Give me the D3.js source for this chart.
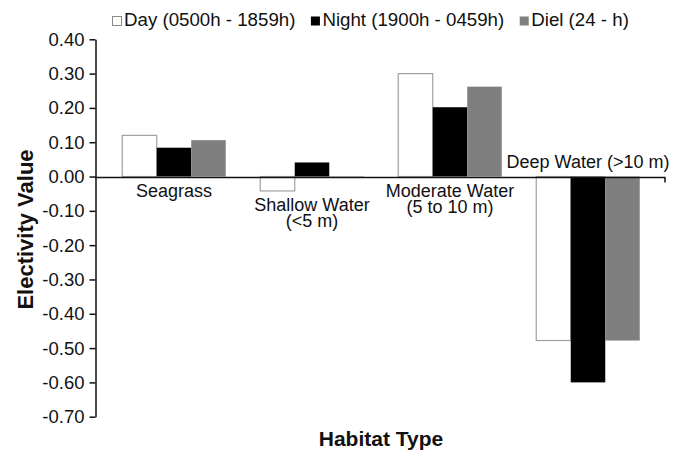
<!DOCTYPE html>
<html>
<head>
<meta charset="utf-8">
<script src="https://cdn.jsdelivr.net/npm/d3@7"></script>
<style>
body { margin: 0; background: #fff; }
text { font-family: "Liberation Sans", Arial, sans-serif; fill: #111; }
</style>
</head>
<body>
<div id="chart"></div>
<script>
// data
var habitats = ["Seagrass", "Shallow Water|(<5 m)", "Moderate Water|(5 to 10 m)", "Deep Water (>10 m)"];
var seriesNames = ["Day (0500h - 1859h)", "Night (1900h - 0459h)", "Diel (24 - h)"];
var dayValues = [0.12, -0.042, 0.30, -0.478];
var nightValues = [0.084, 0.041, 0.202, -0.60];
var dielValues = [0.106, -0.004, 0.262, -0.478];
var yTicks = [0.40, 0.30, 0.20, 0.10, 0.00, -0.10, -0.20, -0.30, -0.40, -0.50, -0.60, -0.70];

var series = [dayValues, nightValues, dielValues];
var fills = ["#ffffff", "#000000", "#7f7f7f"];
var strokes = ["#a0a0a0", "none", "none"];

var width = 676, height = 450;
var svg = d3.select("#chart").append("svg")
  .attr("width", width)
  .attr("height", height);

// scales
var y = d3.scaleLinear().domain([-0.7, 0.4]).range([416.7, 39.3]);
var x0 = d3.scaleBand().domain(habitats).range([105, 657])
  .paddingInner(0.25).paddingOuter(0.125);
var x1 = d3.scaleBand().domain([0, 1, 2]).range([0, x0.bandwidth()]);

// y axis
var yAxis = svg.append("g")
  .attr("transform", "translate(95.5,0)")
  .call(d3.axisLeft(y).tickValues(yTicks).tickSize(6).tickSizeOuter(0)
    .tickPadding(5).tickFormat(function (d) { return d.toFixed(2); }));
yAxis.select(".domain").attr("stroke", "#111").attr("stroke-width", 1.5);
yAxis.selectAll(".tick line").attr("stroke", "#111").attr("stroke-width", 1.5);
yAxis.selectAll(".tick text").style("font-size", "18.5px")
  .style("font-family", "'Liberation Sans', Arial, sans-serif").attr("fill", "#111");

// bars
var groups = svg.append("g").selectAll("g")
  .data(habitats)
  .enter().append("g")
  .attr("transform", function (d) { return "translate(" + x0(d) + ",0)"; });

groups.selectAll("rect")
  .data(function (d, i) { return series.map(function (s, k) { return {k: k, v: s[i]}; }); })
  .enter().append("rect")
  .attr("x", function (d) { return x1(d.k); })
  .attr("width", x1.bandwidth())
  .attr("y", function (d) { return y(Math.max(0, d.v)); })
  .attr("height", function (d) { return Math.max(1, Math.abs(y(d.v) - y(0))); })
  .attr("fill", function (d) { return fills[d.k]; })
  .attr("stroke", function (d) { return strokes[d.k]; })
  .attr("stroke-width", 1.2);

// x axis line through zero, with small end tick
var y0 = Math.round(y(0)) + 0.5;
svg.append("path")
  .attr("d", "M95," + y0 + "H665V" + (y0 + 5))
  .attr("fill", "none")
  .attr("stroke", "#111")
  .attr("stroke-width", 1.5);

// category labels: below the lowest bar, or above the axis when all bars are negative
habitats.forEach(function (h, i) {
  var vals = series.map(function (s) { return s[i]; });
  var lines = h.split("|");
  var cx = x0(h) + x0.bandwidth() / 2;
  var allNeg = d3.max(vals) < 0;
  var base = allNeg ? y(0) - 8.5 : y(Math.min(0, d3.min(vals))) + 20.5;
  var t = svg.append("text")
    .attr("text-anchor", "middle")
    .style("font-size", "18px");
  lines.forEach(function (l, j) {
    t.append("tspan").attr("x", cx).attr("y", base + j * 16).text(l);
  });
});

// legend
var lx = 112;
seriesNames.forEach(function (name, k) {
  svg.append("rect")
    .attr("x", lx + 0.5).attr("y", 16.5)
    .attr("width", 9).attr("height", 9)
    .attr("fill", fills[k])
    .attr("stroke", k == 0 ? "#888" : "none");
  var t = svg.append("text")
    .attr("x", lx + 12).attr("y", 26)
    .style("font-size", "18.7px")
    .text(name);
  lx = lx + 12 + t.node().getComputedTextLength() + 15;
});

// axis titles
svg.append("text")
  .attr("transform", "translate(33,229.5) rotate(-90)")
  .attr("text-anchor", "middle")
  .style("font-size", "22px")
  .style("font-weight", "bold")
  .text("Electivity Value");

svg.append("text")
  .attr("x", 381).attr("y", 446)
  .attr("text-anchor", "middle")
  .style("font-size", "21px")
  .style("font-weight", "bold")
  .text("Habitat Type");
</script>
</body>
</html>
